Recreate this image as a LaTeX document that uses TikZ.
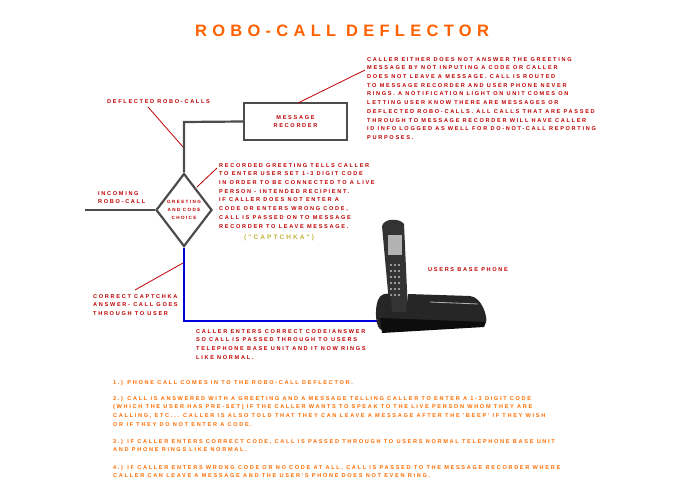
\documentclass[tikz,border=0pt]{standalone}
\usepackage{fontspec}
\usetikzlibrary{shapes.geometric}
\setmainfont{Liberation Sans}
\newfontfamily\spaced[LetterSpace=30]{Liberation Sans}
\newfontfamily\titlefont[LetterSpace=32]{Liberation Sans}
\begin{document}
\begin{tikzpicture}[x=1pt,y=-1pt,
  txt/.style={anchor=north west,inner sep=0pt,align=left,font=\spaced\fontsize{5.6}{8.7}\selectfont\bfseries,text=red!75!black},
  note/.style={txt,text=orange!85!red},
  lead/.style={red!75!black,line width=0.8pt},
  wire/.style={line width=2.2pt,draw=black!70,line join=miter}]
\useasboundingbox (0,0) rectangle (695,494);
\node (title) at (342,31) {\titlefont\fontsize{16.5}{16}\selectfont\bfseries\color{orange!75!red}ROBO-CALL DEFLECTOR};
\node[wire,draw,minimum width=103pt,minimum height=37pt,inner sep=0pt,font=\spaced\fontsize{5.6}{8.7}\selectfont\bfseries,text=red!75!black,align=center] (rec) at (295.5,121.5) {MESSAGE\\RECORDER};
\node[wire,draw,diamond,minimum width=56pt,minimum height=73pt,inner sep=0pt,font=\spaced\fontsize{4.6}{8}\selectfont\bfseries,text=red!75!black,align=center] (dia) at (184,210) {GREETING\\AND CODE\\CHOICE};
\coordinate (in) at (85,210);
\coordinate (bend) at (184,122);
\coordinate (bl) at (184,321);
\coordinate (ph) at (383,321);
\draw[wire] (in) -- (dia.west);
\draw[wire] (dia.north) -- (bend) -- (rec.west);
\draw[line width=2.2pt,blue!85!black] (dia.south) -- (bl) -- (ph);
% phone
\fill[black!80] (382,226) .. controls (384,218) and (400,218) .. (404,224) -- (408,312) .. controls (406,318) and (392,318) .. (390,314) -- cycle;
\fill[gray!60] (388,235) rectangle (402,255);
\foreach \r in {0,...,5}{\foreach \c in {0,1,2}{\fill[gray!50] (391+\c*4,265+\r*6) circle (1.1pt);}}
\fill[black!85] (378,300) .. controls (380,294) and (386,293) .. (390,294) -- (392,312) -- (406,312) -- (408,294) -- (470,296) .. controls (482,297) and (488,318) .. (486,322) -- (382,330) .. controls (376,330) and (374,310) .. (378,300) -- cycle;
\fill[black!95] (380,318) -- (486,322) -- (484,327) -- (382,333) -- cycle;
\draw[gray!60,line width=0.8pt] (430,302) -- (478,304);
% texts
\node[txt] (tdef) at (107,99) {DEFLECTED ROBO-CALLS};
\node[txt] (tin) at (98,191) {INCOMING\\ROBO-CALL};
\node[txt] (tgreet) at (219,163) {RECORDED GREETING TELLS CALLER\\TO ENTER USER SET 1-3 DIGIT CODE\\IN ORDER TO BE CONNECTED TO A LIVE\\PERSON - INTENDED RECIPIENT.\\IF CALLER DOES NOT ENTER A\\CODE OR ENTERS WRONG CODE,\\CALL IS PASSED ON TO MESSAGE\\RECORDER TO LEAVE MESSAGE.};
\node[anchor=north west,inner sep=0pt,font=\titlefont\fontsize{6.5}{8}\selectfont\bfseries,text=yellow!70!black] (tcap) at (244,235) {("CAPTCHKA")};
\node[txt] (tcall) at (367,57) {CALLER EITHER DOES NOT ANSWER THE GREETING\\MESSAGE BY NOT INPUTING A CODE OR CALLER\\DOES NOT LEAVE A MESSAGE. CALL IS ROUTED\\TO MESSAGE RECORDER AND USER PHONE NEVER\\RINGS. A NOTIFICATION LIGHT ON UNIT COMES ON\\LETTING USER KNOW THERE ARE MESSAGES OR\\DEFLECTED ROBO-CALLS. ALL CALLS THAT ARE PASSED\\THROUGH TO MESSAGE RECORDER WILL HAVE CALLER\\ID INFO LOGGED AS WELL FOR DO-NOT-CALL REPORTING\\PURPOSES.};
\node[txt] (tbase) at (428,267) {USERS BASE PHONE};
\node[txt] (tcorr) at (93,294) {CORRECT CAPTCHKA\\ANSWER- CALL GOES\\THROUGH TO USER};
\node[txt] (tent) at (196,329) {CALLER ENTERS CORRECT CODE/ANSWER\\SO CALL IS PASSED THROUGH TO USERS\\TELEPHONE BASE UNIT AND IT NOW RINGS\\LIKE NORMAL.};
\node[note] (n1) at (113,380) {1.) PHONE CALL COMES IN TO THE ROBO-CALL DEFLECTOR.};
\node[note] (n2) at (113,396) {2.) CALL IS ANSWERED WITH A GREETING AND A MESSAGE TELLING CALLER TO ENTER A 1-3 DIGIT CODE\\(WHICH THE USER HAS PRE-SET) IF THE CALLER WANTS TO SPEAK TO THE LIVE PERSON WHOM THEY ARE\\CALLING, ETC... CALLER IS ALSO TOLD THAT THEY CAN LEAVE A MESSAGE AFTER THE 'BEEP' IF THEY WISH\\OR IF THEY DO NOT ENTER A CODE.};
\node[note] (n3) at (113,439) {3.) IF CALLER ENTERS CORRECT CODE, CALL IS PASSED THROUGH TO USERS NORMAL TELEPHONE BASE UNIT\\AND PHONE RINGS LIKE NORMAL.};
\node[note] (n4) at (113,465) {4.) IF CALLER ENTERS WRONG CODE OR NO CODE AT ALL, CALL IS PASSED TO THE MESSAGE RECORDER WHERE\\CALLER CAN LEAVE A MESSAGE AND THE USER'S PHONE DOES NOT EVEN RING.};
% leaders
\coordinate (l1) at (183,147);
\coordinate (l2) at (298,103);
\coordinate (l3) at (197,187);
\coordinate (l4) at (183,263);
\draw[lead] (148,107) -- (l1);
\draw[lead] (l2) -- (365,70);
\draw[lead] (l3) -- (217,168);
\draw[lead] (135,290) -- (l4);
\end{tikzpicture}
\end{document}
